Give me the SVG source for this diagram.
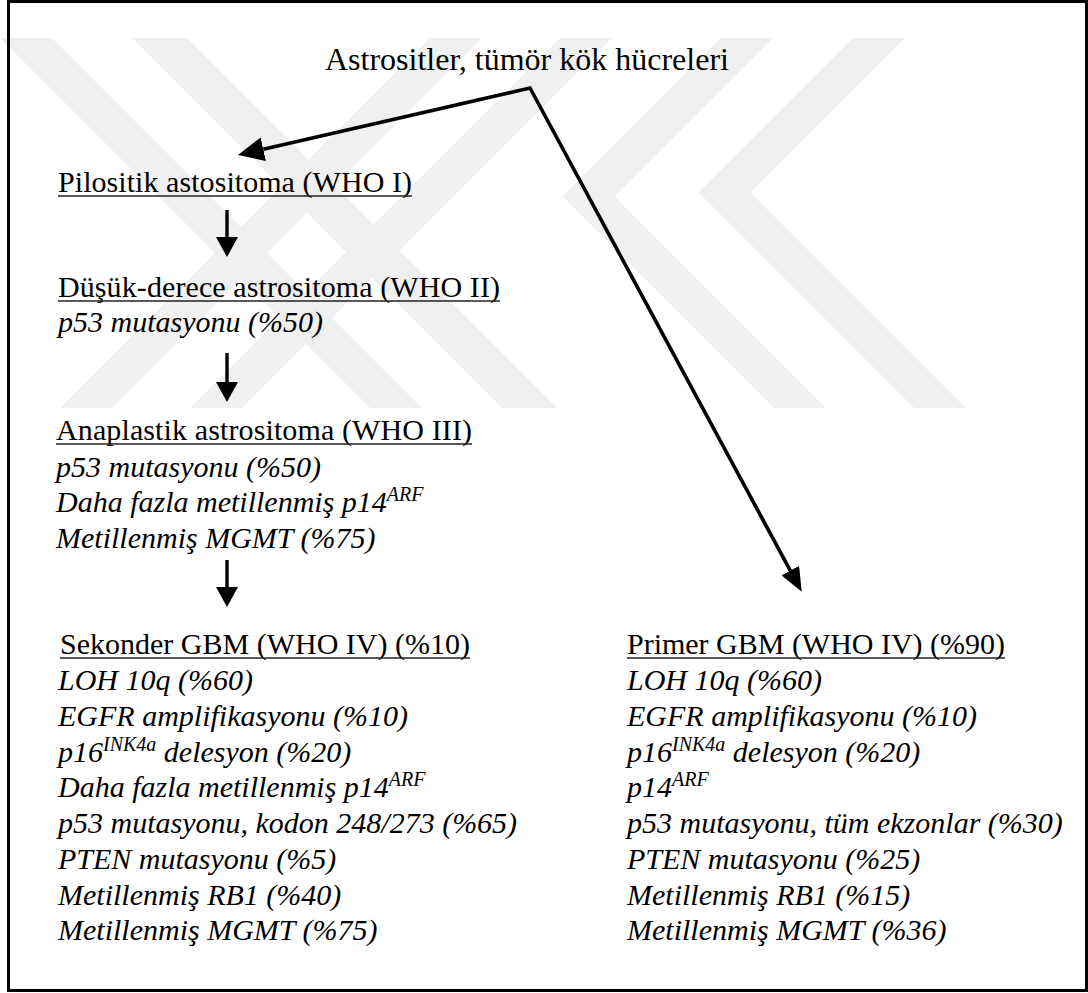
<svg xmlns="http://www.w3.org/2000/svg" width="1088" height="993" viewBox="0 0 1088 993">
<style>
  text { font-family: "Liberation Serif", "Times New Roman", serif; fill: #000; }
  .title { font-size: 32px; }
  .hd { font-size: 30px; }
  .it { font-size: 30px; font-style: italic; }
  .sup { font-size: 20px; }
  .ul { stroke: #222; stroke-width: 1.5; }
  .conn { stroke: #000; fill: none; }
  .wm { fill: #f0f0f0; stroke: none; }
</style>
<defs>
  <marker id="hv" markerUnits="userSpaceOnUse" markerWidth="20" markerHeight="22" refX="0" refY="11" orient="auto" viewBox="0 0 20 22"><path d="M0,0 L20,11 L0,22 z" fill="#000"/></marker>
  <marker id="hl" markerUnits="userSpaceOnUse" markerWidth="26" markerHeight="24" refX="0" refY="12" orient="auto-start-reverse" viewBox="0 0 26 24"><path d="M0,0 L26,12 L0,24 z" fill="#000"/></marker>
  <marker id="hr" markerUnits="userSpaceOnUse" markerWidth="24" markerHeight="20" refX="0" refY="10" orient="auto" viewBox="0 0 24 20"><path d="M0,0 L24,10 L0,20 z" fill="#000"/></marker>
</defs>
<rect x="0" y="0" width="1088" height="993" fill="#fff"/>

<g id="watermark">
  <polygon class="wm" points="0,38 52,38 422,408 370,408"/>
  <polygon class="wm" points="132,38 187,38 557,408 502,408"/>
  <polygon class="wm" points="430,38 482,38 112,408 60,408"/>
  <polygon class="wm" points="560,38 612,38 242,408 190,408"/>
  <polygon class="wm" points="721,38 773,38 614.5,196.5 826,408 774,408 562.5,196.5"/>
  <polygon class="wm" points="853,38 905,38 750.5,192.5 966,408 914,408 698.5,192.5"/>
</g>

<rect x="8.5" y="1.5" width="1078" height="989" fill="none" stroke="#000" stroke-width="3"/>

<g id="connectors">
  <polyline class="conn" points="263.3,149.2 530,88 790.3,570.6" stroke-width="3.6" stroke-linejoin="miter" marker-start="url(#hl)" marker-end="url(#hr)"/>
  <line class="conn" x1="227" y1="210" x2="227" y2="237" stroke-width="3.4" marker-end="url(#hv)"/>
  <line class="conn" x1="227" y1="353" x2="227" y2="382" stroke-width="3.4" marker-end="url(#hv)"/>
  <line class="conn" x1="227" y1="560" x2="227" y2="587" stroke-width="3.4" marker-end="url(#hv)"/>
</g>

<g id="root">
  <text class="title" x="325" y="70">Astrositler, tümör kök hücreleri</text>
</g>
<g id="pilositik">
  <text class="hd" x="58" y="192" textLength="354" lengthAdjust="spacing">Pilositik astositoma (WHO I)</text>
  <line class="ul" x1="58" y1="196" x2="412" y2="196"/>
</g>
<g id="dusuk">
  <text class="hd" x="58" y="297" textLength="442" lengthAdjust="spacing">Düşük-derece astrositoma (WHO II)</text>
  <line class="ul" x1="58" y1="301" x2="500" y2="301"/>
  <text class="it" x="58" y="332">p53 mutasyonu (%50)</text>
</g>
<g id="anaplastik">
  <text class="hd" x="56" y="440" textLength="416" lengthAdjust="spacing">Anaplastik astrositoma (WHO III)</text>
  <line class="ul" x1="56" y1="444" x2="472" y2="444"/>
  <text class="it" x="56" y="477">p53 mutasyonu (%50)</text>
  <text class="it" x="56" y="512">Daha fazla metillenmiş p14<tspan class="sup" dy="-11">ARF</tspan></text>
  <text class="it" x="56" y="548">Metillenmiş MGMT (%75)</text>
</g>
<g id="sekonder">
  <text class="hd" x="60" y="654" textLength="410" lengthAdjust="spacing">Sekonder GBM (WHO IV) (%10)</text>
  <line class="ul" x1="60" y1="658" x2="470" y2="658"/>
  <text class="it" x="58" y="690">LOH 10q (%60)</text>
  <text class="it" x="58" y="726">EGFR amplifikasyonu (%10)</text>
  <text class="it" x="58" y="762">p16<tspan class="sup" dy="-11">INK4a</tspan><tspan dy="11"> delesyon (%20)</tspan></text>
  <text class="it" x="58" y="797">Daha fazla metillenmiş p14<tspan class="sup" dy="-11">ARF</tspan></text>
  <text class="it" x="58" y="833">p53 mutasyonu, kodon 248/273 (%65)</text>
  <text class="it" x="58" y="869">PTEN mutasyonu (%5)</text>
  <text class="it" x="58" y="905">Metillenmiş RB1 (%40)</text>
  <text class="it" x="58" y="940">Metillenmiş MGMT (%75)</text>
</g>
<g id="primer">
  <text class="hd" x="627" y="654" textLength="378" lengthAdjust="spacing">Primer GBM (WHO IV) (%90)</text>
  <line class="ul" x1="627" y1="658" x2="1005" y2="658"/>
  <text class="it" x="627" y="690">LOH 10q (%60)</text>
  <text class="it" x="627" y="726">EGFR amplifikasyonu (%10)</text>
  <text class="it" x="627" y="762">p16<tspan class="sup" dy="-11">INK4a</tspan><tspan dy="11"> delesyon (%20)</tspan></text>
  <text class="it" x="627" y="797">p14<tspan class="sup" dy="-11">ARF</tspan></text>
  <text class="it" x="627" y="833">p53 mutasyonu, tüm ekzonlar (%30)</text>
  <text class="it" x="627" y="869">PTEN mutasyonu (%25)</text>
  <text class="it" x="627" y="905">Metillenmiş RB1 (%15)</text>
  <text class="it" x="627" y="940">Metillenmiş MGMT (%36)</text>
</g>
</svg>
